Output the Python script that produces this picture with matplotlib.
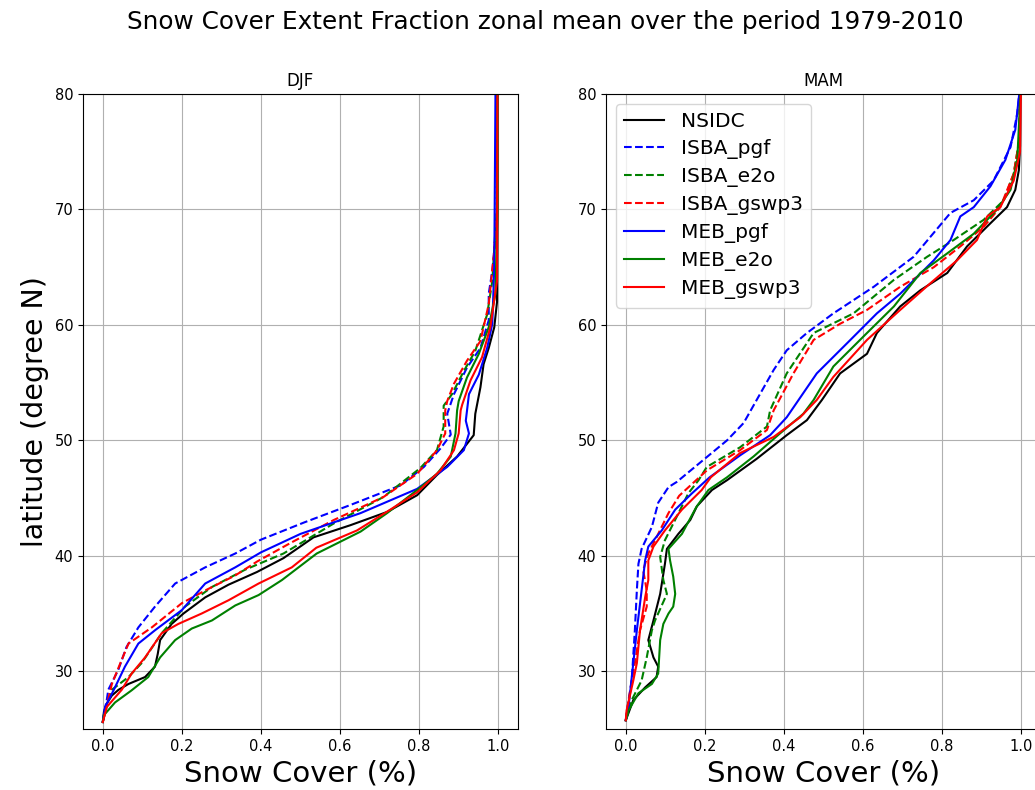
import matplotlib
matplotlib.use("Agg")
import matplotlib.pyplot as plt

# ============================================================
# Data: latitude / snow cover pairs
# ============================================================
# --- DJF ---
djf_nsidc_lat = [25.6, 26.5, 27.2, 27.9, 28.4, 28.9, 29.5, 30.4, 31.5, 32.7, 34.1, 35.0, 36.4, 37.5, 38.6,
                 39.8, 41.6, 42.65, 43.8, 45.25, 47.0, 48.6, 50.45, 52.3, 54.6, 56.6, 58.0, 59.8, 62.0, 70.0, 80.0]
djf_nsidc = [0.0, 0.003, 0.01, 0.023, 0.04, 0.065, 0.107, 0.132, 0.139, 0.145, 0.174, 0.204, 0.259, 0.318, 0.39,
             0.457, 0.533, 0.626, 0.719, 0.795, 0.845, 0.896, 0.938, 0.942, 0.955, 0.963, 0.976, 0.99, 0.997, 0.998, 0.998]

djf_isba_pgf_lat = [25.6, 26.5, 27.5, 28.4, 30.1, 32.1, 33.8, 35.6, 37.6, 39.0, 40.2, 41.4, 42.9, 44.4, 46.1,
                    47.7, 49.3, 50.5, 52.3, 54.0, 56.3, 58.0, 60.4, 62.7, 64.7, 68.5, 80.0]
djf_isba_pgf = [0.0, 0.004, 0.01, 0.014, 0.039, 0.06, 0.09, 0.132, 0.183, 0.259, 0.335, 0.40, 0.51, 0.626, 0.753,
                0.812, 0.854, 0.88, 0.871, 0.888, 0.921, 0.955, 0.976, 0.976, 0.985, 0.996, 0.997]

djf_isba_e2o_lat = [25.6, 27.0, 28.4, 29.5, 30.7, 33.3, 35.6, 37.3, 38.8, 40.2, 42.8, 45.1, 47.6, 49.15, 51.2,
                    53.0, 54.0, 56.0, 57.75, 60.9, 63.8, 70.0, 80.0]
djf_isba_e2o = [0.0, 0.01, 0.023, 0.065, 0.098, 0.149, 0.208, 0.276, 0.36, 0.457, 0.584, 0.71, 0.803, 0.845, 0.862,
                0.862, 0.883, 0.913, 0.942, 0.972, 0.985, 0.996, 0.997]

djf_isba_gswp3_lat = [25.6, 27.0, 28.9, 31.0, 32.4, 33.8, 35.9, 37.0, 38.3, 39.5, 41.1, 43.1, 45.1, 47.1, 49.15,
                      50.6, 52.6, 53.4, 54.9, 56.9, 58.6, 61.8, 66.1, 70.0, 80.0]
djf_isba_gswp3 = [0.0, 0.01, 0.023, 0.048, 0.065, 0.124, 0.2, 0.259, 0.335, 0.39, 0.474, 0.584, 0.71, 0.795, 0.845,
                  0.866, 0.866, 0.871, 0.888, 0.921, 0.955, 0.976, 0.989, 0.997, 0.997]

djf_meb_pgf_lat = [25.6, 26.9, 28.4, 30.4, 32.4, 33.55, 35.3, 37.6, 39.0, 40.3, 41.9, 43.7, 45.8, 47.7, 49.15,
                   50.6, 51.7, 54.0, 55.7, 58.0, 60.1, 65.0, 80.0]
djf_meb_pgf = [0.0, 0.006, 0.028, 0.056, 0.09, 0.132, 0.2, 0.259, 0.335, 0.40, 0.5, 0.652, 0.795, 0.871, 0.913,
               0.926, 0.918, 0.926, 0.951, 0.972, 0.985, 0.99, 0.993]

djf_meb_e2o_lat = [25.6, 26.2, 27.3, 28.35, 29.5, 31.2, 32.7, 33.7, 34.4, 35.7, 36.6, 37.9, 40.2, 42.1, 43.7,
                   45.7, 47.1, 48.6, 50.6, 52.6, 53.4, 55.45, 57.5, 59.8, 62.7, 70.0, 80.0]
djf_meb_e2o = [0.0, 0.003, 0.031, 0.073, 0.115, 0.145, 0.183, 0.225, 0.276, 0.335, 0.394, 0.453, 0.541, 0.652, 0.719,
               0.795, 0.845, 0.88, 0.892, 0.896, 0.9, 0.921, 0.951, 0.976, 0.993, 0.998, 0.998]

djf_meb_gswp3_lat = [25.6, 26.9, 28.4, 29.8, 31.2, 33.3, 34.1, 35.0, 36.15, 37.6, 39.0, 40.7, 42.2, 44.0, 45.5,
                     47.4, 49.15, 50.6, 52.6, 53.1, 55.2, 57.2, 59.8, 63.8, 80.0]
djf_meb_gswp3 = [0.0, 0.01, 0.048, 0.073, 0.107, 0.149, 0.191, 0.25, 0.318, 0.394, 0.478, 0.54, 0.643, 0.727, 0.795,
                 0.854, 0.888, 0.9, 0.905, 0.909, 0.93, 0.959, 0.98, 0.997, 0.998]

# --- MAM ---
mam_nsidc_lat = [25.75, 27.5, 28.6, 29.5, 30.4, 31.2, 32.7, 34.4, 36.7, 39.3, 40.6, 41.9, 43.1, 44.3, 45.7,
                 46.55, 48.4, 50.45, 51.75, 53.5, 55.8, 57.5, 59.3, 61.6, 63.0, 64.5, 66.8, 68.8, 70.2, 71.7,
                 73.4, 75.5, 80.0]
mam_nsidc = [0.0, 0.019, 0.049, 0.078, 0.082, 0.07, 0.057, 0.07, 0.087, 0.099, 0.104, 0.133, 0.163, 0.18, 0.218,
             0.256, 0.331, 0.407, 0.458, 0.496, 0.542, 0.61, 0.635, 0.694, 0.745, 0.813, 0.863, 0.922, 0.964, 0.985,
             0.994, 0.997, 0.998]

mam_isba_pgf_lat = [25.75, 26.3, 29.2, 33.55, 37.0, 39.3, 40.6, 42.5, 44.6, 45.95, 46.4, 48.3, 50.0, 51.5, 53.5,
                    56.1, 57.8, 59.3, 61.0, 63.3, 65.9, 69.7, 70.8, 72.5, 75.4, 78.3, 80.0]
mam_isba_pgf = [0.0, 0.002, 0.015, 0.023, 0.028, 0.032, 0.04, 0.066, 0.082, 0.108, 0.129, 0.196, 0.256, 0.298, 0.331,
                0.374, 0.407, 0.458, 0.525, 0.627, 0.728, 0.821, 0.88, 0.93, 0.973, 0.99, 0.995]

mam_isba_e2o_lat = [25.75, 27.5, 29.2, 31.2, 33.55, 34.4, 36.7, 37.9, 39.9, 41.35, 43.4, 45.4, 46.55, 47.7, 49.4,
                    51.2, 52.6, 55.8, 59.3, 61.0, 63.9, 65.9, 67.35, 69.1, 70.8, 73.1, 76.0, 80.0]
mam_isba_e2o = [0.0, 0.015, 0.04, 0.053, 0.066, 0.074, 0.104, 0.095, 0.087, 0.099, 0.129, 0.158, 0.184, 0.205, 0.289,
                0.357, 0.365, 0.407, 0.475, 0.576, 0.678, 0.762, 0.829, 0.905, 0.956, 0.981, 0.995, 0.997]

mam_isba_gswp3_lat = [25.75, 27.5, 30.7, 33.55, 35.6, 37.0, 38.75, 40.2, 41.9, 43.7, 45.2, 47.4, 49.15, 50.9,
                      52.6, 55.8, 58.7, 60.1, 61.3, 63.3, 65.0, 66.8, 68.5, 70.2, 73.1, 76.0, 80.0]
mam_isba_gswp3 = [0.0, 0.007, 0.023, 0.036, 0.053, 0.053, 0.044, 0.057, 0.082, 0.108, 0.135, 0.205, 0.289, 0.357,
                  0.374, 0.424, 0.475, 0.542, 0.61, 0.694, 0.779, 0.846, 0.905, 0.947, 0.981, 0.995, 0.997]

mam_meb_pgf_lat = [25.75, 26.9, 30.7, 33.55, 37.0, 39.6, 40.8, 42.2, 44.0, 45.4, 46.8, 48.7, 50.45, 52.0, 53.5,
                   55.8, 58.7, 61.0, 62.7, 65.6, 67.35, 69.4, 70.2, 72.0, 74.3, 76.9, 80.0]
mam_meb_pgf = [0.0, 0.007, 0.019, 0.028, 0.04, 0.049, 0.057, 0.091, 0.125, 0.167, 0.212, 0.289, 0.365, 0.407, 0.437,
               0.483, 0.568, 0.635, 0.694, 0.779, 0.821, 0.846, 0.88, 0.922, 0.96, 0.985, 0.995]

mam_meb_e2o_lat = [25.75, 26.6, 28.1, 28.9, 29.8, 32.7, 34.1, 35.0, 35.6, 36.7, 38.2, 39.6, 40.6, 41.9, 44.2,
                   45.7, 46.8, 48.6, 50.6, 52.3, 53.5, 56.4, 59.3, 61.6, 64.5, 66.2, 67.9, 70.0, 71.7, 74.3, 80.0]
mam_meb_e2o = [0.0, 0.007, 0.032, 0.066, 0.082, 0.087, 0.095, 0.108, 0.12, 0.125, 0.12, 0.112, 0.108, 0.142, 0.178,
               0.209, 0.256, 0.323, 0.39, 0.449, 0.475, 0.525, 0.61, 0.678, 0.745, 0.813, 0.88, 0.939, 0.973, 0.99,
               0.998]

mam_meb_gswp3_lat = [25.75, 26.6, 29.2, 30.7, 33.55, 36.4, 37.9, 39.6, 40.8, 42.2, 44.0, 45.7, 46.8, 48.9, 50.3,
                     52.0, 53.5, 55.5, 58.7, 61.3, 63.6, 65.6, 67.35, 69.4, 70.2, 72.5, 75.0, 80.0]
mam_meb_gswp3 = [0.0, 0.002, 0.019, 0.028, 0.036, 0.049, 0.057, 0.057, 0.07, 0.099, 0.142, 0.192, 0.215, 0.289, 0.374,
                 0.441, 0.483, 0.525, 0.61, 0.694, 0.77, 0.838, 0.888, 0.914, 0.947, 0.981, 0.997, 0.999]

labels = ["NSIDC", "ISBA_pgf", "ISBA_e2o", "ISBA_gswp3", "MEB_pgf", "MEB_e2o", "MEB_gswp3"]
styles = ["k-", "b--", "g--", "r--", "b-", "g-", "r-"]

djf = [(djf_nsidc, djf_nsidc_lat), (djf_isba_pgf, djf_isba_pgf_lat), (djf_isba_e2o, djf_isba_e2o_lat),
       (djf_isba_gswp3, djf_isba_gswp3_lat), (djf_meb_pgf, djf_meb_pgf_lat), (djf_meb_e2o, djf_meb_e2o_lat),
       (djf_meb_gswp3, djf_meb_gswp3_lat)]
mam = [(mam_nsidc, mam_nsidc_lat), (mam_isba_pgf, mam_isba_pgf_lat), (mam_isba_e2o, mam_isba_e2o_lat),
       (mam_isba_gswp3, mam_isba_gswp3_lat), (mam_meb_pgf, mam_meb_pgf_lat), (mam_meb_e2o, mam_meb_e2o_lat),
       (mam_meb_gswp3, mam_meb_gswp3_lat)]

# ============================================================
# Figure (right panel runs past the right edge, as in the original crop)
# ============================================================
W, H = 1035, 790
fig = plt.figure(figsize=(W / 100, H / 100), dpi=100)
ax1 = fig.add_axes([83 / W, (H - 729) / H, 435 / W, 635 / H])
ax2 = fig.add_axes([606 / W, (H - 729) / H, 435 / W, 635 / H])

for ax, season, data in [(ax1, "DJF", djf), (ax2, "MAM", mam)]:
    for (vals, lats), st, lab in zip(data, styles, labels):
        ax.plot(vals, lats, st, label=lab, linewidth=1.5)
    ax.set_xlim(-0.05, 1.05)
    ax.set_ylim(25, 80)
    ax.set_xticks([0.0, 0.2, 0.4, 0.6, 0.8, 1.0])
    ax.set_yticks([30, 40, 50, 60, 70, 80])
    ax.tick_params(labelsize=10.5)
    ax.grid(True)
    ax.set_title(season, fontsize=12)
    ax.set_xlabel("Snow Cover (%)", fontsize=21)

ax1.set_ylabel("latitude (degree N)", fontsize=20.5)
ax2.legend(loc="upper left", fontsize=14.5, labelspacing=0.4)

# suptitle is centred on the uncropped figure, so it sits a bit right of centre here
fig.text(545 / W, 1 - 22 / H, "Snow Cover Extent Fraction zonal mean over the period 1979-2010",
         ha="center", va="center", fontsize=17.8)

fig.savefig("out.png", dpi=100)
